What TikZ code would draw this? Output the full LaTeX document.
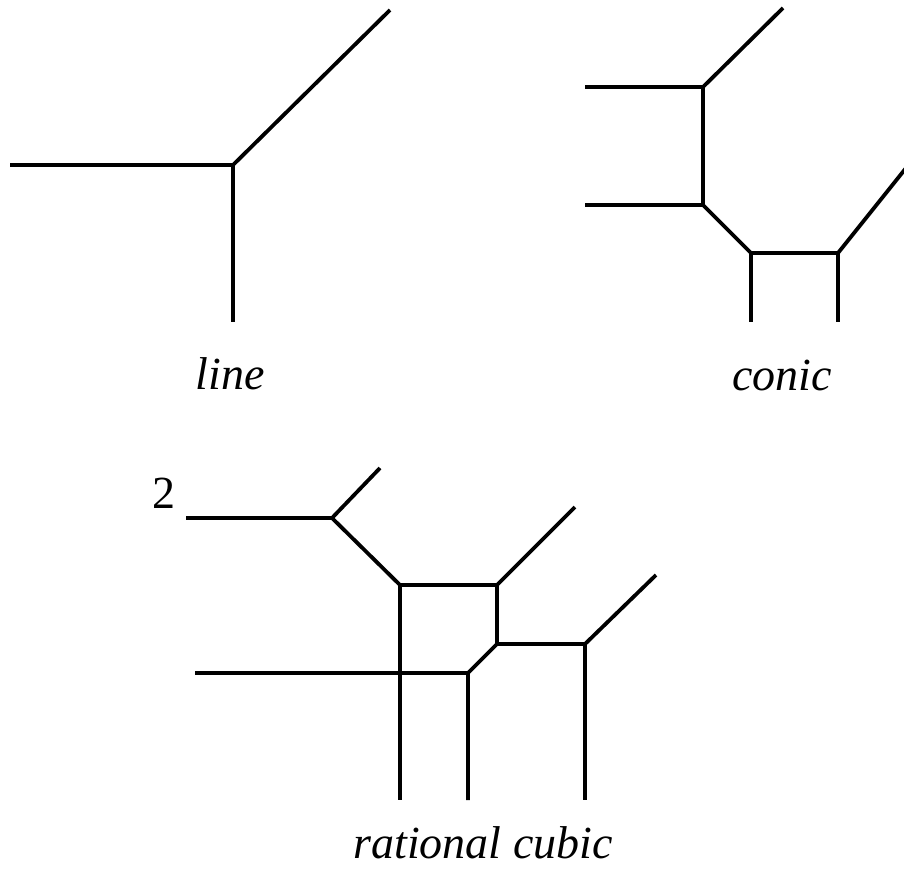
\documentclass[tikz,border=0pt]{standalone}
\usepackage{fontspec}
\setmainfont{Liberation Serif}
\begin{document}
\begin{tikzpicture}[x=1pt,y=-1pt,
  edge/.style={line width=3.8pt,line cap=butt,line join=miter},
  lbl/.style={inner sep=0pt,anchor=base,font=\fontsize{46}{50}\selectfont\itshape},
  num/.style={inner sep=0pt,anchor=base,font=\fontsize{46}{50}\selectfont}]
\useasboundingbox (0,0) rectangle (904,871);

% tropical line
\coordinate (L) at (233,165);
\coordinate (La) at (10,165);
\coordinate (Lb) at (233,322);
\coordinate (Lc) at (390,10);
\draw[edge] (La) -- (L) -- (Lb);
\draw[edge] (L) -- (Lc);
\node[lbl] (tline) at (230,389) {line};

% tropical conic
\coordinate (C1) at (703,87);
\coordinate (C2) at (703,205);
\coordinate (C3) at (751,253);
\coordinate (C4) at (838,253);
\coordinate (C1a) at (585,87);
\coordinate (C1b) at (783,8);
\coordinate (C2a) at (585,205);
\coordinate (C3a) at (751,322);
\coordinate (C4a) at (838,322);
\coordinate (C4b) at (906,168);
\draw[edge] (C1a) -- (C1) -- (C1b);
\draw[edge] (C1) -- (C2) -- (C3) -- (C4) -- (C4b);
\draw[edge] (C2a) -- (C2);
\draw[edge] (C3) -- (C3a);
\draw[edge] (C4) -- (C4a);
\node[lbl] (tconic) at (782,390) {conic};

% tropical rational cubic
\coordinate (R1) at (332,518);
\coordinate (R2) at (400,585);
\coordinate (R3) at (497,585);
\coordinate (R4) at (497,644);
\coordinate (R5) at (585,644);
\coordinate (R6) at (468,673);
\coordinate (R1a) at (186,518);
\coordinate (R1b) at (380,468);
\coordinate (R2a) at (400,800);
\coordinate (R3a) at (575,507);
\coordinate (R5a) at (656,575);
\coordinate (R5b) at (585,800);
\coordinate (R6a) at (195,673);
\coordinate (R6b) at (468,800);
\draw[edge] (R1a) -- (R1) -- (R1b);
\draw[edge] (R1) -- (R2) -- (R3) -- (R3a);
\draw[edge] (R2) -- (R2a);
\draw[edge] (R3) -- (R4) -- (R5) -- (R5a);
\draw[edge] (R5) -- (R5b);
\draw[edge] (R4) -- (R6) -- (R6b);
\draw[edge] (R6a) -- (R6);
\node[num] (two) at (164,508) {2};
\node[lbl] (tcubic) at (483,858) {rational cubic};
\end{tikzpicture}
\end{document}
